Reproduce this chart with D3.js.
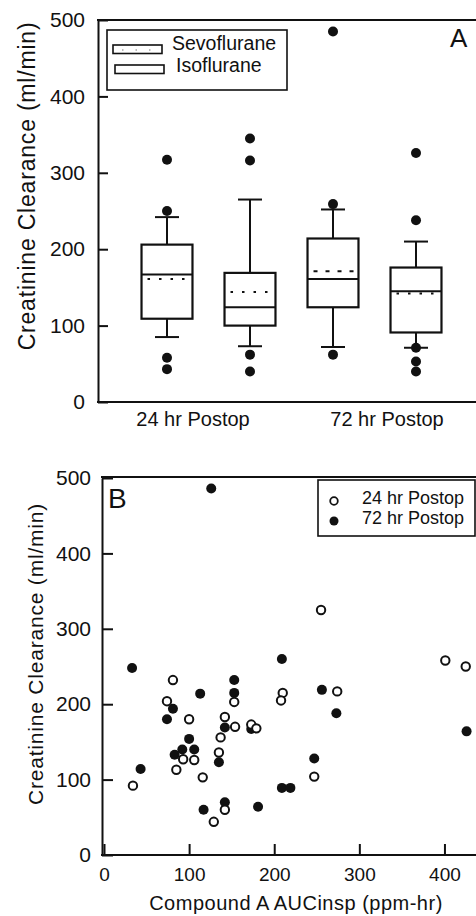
<!DOCTYPE html>
<html>
<head>
<meta charset="utf-8">
<script src="https://cdn.jsdelivr.net/npm/d3@7"></script>
<style>
  body { margin: 0; background: #fff; }
  svg { display: block; font-family: "Liberation Sans", Arial, sans-serif; }
</style>
</head>
<body>
<svg id="chart" width="476" height="916"></svg>
<script>
// Panel A: box plots of creatinine clearance by time point and agent.
const groups = ["24 hr Postop", "72 hr Postop"];
const agents = ["Sevoflurane", "Isoflurane"];
const boxKeys = ["24 hr Sevoflurane", "24 hr Isoflurane", "72 hr Sevoflurane", "72 hr Isoflurane"];
const whiskerLow = [85, 73, 72, 71];
const q1 = [109, 100, 124, 91];
const median = [167, 124, 161, 145];
const q3 = [206, 169, 214, 176];
const whiskerHigh = [242, 265, 252, 210];
const means = [161, 144, 171, 142];
const outliers = [
    [43, 58, 250, 317],
    [40, 62, 316, 345],
    [62, 259, 485],
    [40, 53, 71, 238, 326]
];
const yTicks = [0, 100, 200, 300, 400, 500];

// Panel B: clearance against Compound A exposure.
const auc24 = [34, 81, 74, 100, 142, 137, 93, 106, 135, 85, 116, 142, 129, 153, 210, 208, 274, 154, 173, 179, 247, 401, 425, 255];
const clear24 = [92, 232, 204, 180, 183, 156, 127, 126, 136, 113, 103, 60, 44, 203, 215, 205, 217, 170, 173, 168, 104, 258, 250, 325];
const auc72 = [33, 113, 81, 74, 142, 100, 92, 106, 83, 135, 43, 117, 142, 209, 153, 153, 256, 273, 173, 247, 209, 219, 181, 426, 126];
const clear72 = [248, 214, 194, 180, 169, 154, 140, 140, 133, 123, 114, 60, 70, 260, 232, 215, 219, 188, 167, 128, 89, 89, 64, 164, 486];
const xTicks = [0, 100, 200, 300, 400];

const INK = "#111";
const svg = d3.select("#chart");

const styleAxis = (g, size) => {
    g.selectAll("path, line").attr("stroke", INK).attr("stroke-width", 2);
    g.selectAll("text").attr("fill", INK).style("font-size", size + "px");
};

// ---------- Panel A ----------
const yA = d3.scaleLinear().domain([0, 500]).range([402, 20]);
const xBox = d3.scaleBand().domain(boxKeys).range([125.5, 457.5]).paddingInner(0.386).paddingOuter(0.193);
const xGroup = d3.scalePoint().domain(groups).range([193, 387]);

const panelA = svg.append("g");

panelA.append("g")
    .attr("transform", "translate(98,0)")
    .call(d3.axisLeft(yA).tickValues(yTicks).tickSize(-10).tickSizeOuter(0).tickPadding(13))
    .call(g => styleAxis(g, 21));

panelA.append("line").attr("x1", 97).attr("x2", 476).attr("y1", yA(0)).attr("y2", yA(0))
    .attr("stroke", INK).attr("stroke-width", 2);
panelA.append("line").attr("x1", 97).attr("x2", 476).attr("y1", yA(500)).attr("y2", yA(500))
    .attr("stroke", INK).attr("stroke-width", 2);

panelA.append("text")
    .attr("transform", `translate(35,${(yA(0) + yA(500)) / 2 - 25}) rotate(-90)`)
    .attr("text-anchor", "middle")
    .style("font-size", "23px").style("letter-spacing", "0.8px")
    .attr("fill", INK)
    .text("Creatinine Clearance (ml/min)");

panelA.selectAll(".group-label")
    .data(groups)
    .join("text")
    .attr("x", d => xGroup(d))
    .attr("y", 426)
    .attr("text-anchor", "middle")
    .style("font-size", "20px")
    .attr("fill", INK)
    .text(d => d);

const boxes = boxKeys.map((key, i) => ({
    key, lo: whiskerLow[i], q1: q1[i], med: median[i], q3: q3[i], hi: whiskerHigh[i], mean: means[i], out: outliers[i]
}));

const bw = xBox.bandwidth();
const box = panelA.selectAll(".box").data(boxes).join("g")
    .attr("transform", d => `translate(${xBox(d.key)},0)`);

box.append("line").attr("x1", bw / 2).attr("x2", bw / 2)
    .attr("y1", d => yA(d.q3)).attr("y2", d => yA(d.hi));
box.append("line").attr("x1", bw / 2).attr("x2", bw / 2)
    .attr("y1", d => yA(d.q1)).attr("y2", d => yA(d.lo));
box.append("line").attr("x1", bw / 2 - 12).attr("x2", bw / 2 + 12)
    .attr("y1", d => yA(d.hi)).attr("y2", d => yA(d.hi));
box.append("line").attr("x1", bw / 2 - 12).attr("x2", bw / 2 + 12)
    .attr("y1", d => yA(d.lo)).attr("y2", d => yA(d.lo));
box.selectAll("line").attr("stroke", INK).attr("stroke-width", 2);

box.append("rect")
    .attr("width", bw)
    .attr("y", d => yA(d.q3))
    .attr("height", d => yA(d.q1) - yA(d.q3))
    .attr("fill", "none").attr("stroke", INK).attr("stroke-width", 2.2);

box.append("line").attr("x1", 0).attr("x2", bw)
    .attr("y1", d => yA(d.med)).attr("y2", d => yA(d.med))
    .attr("stroke", INK).attr("stroke-width", 2);

// Means are drawn as a dotted line; the 72 hr sevoflurane one is short dashes.
box.append("line").attr("x1", 6).attr("x2", bw - 4)
    .attr("y1", d => yA(d.mean)).attr("y2", d => yA(d.mean))
    .attr("stroke", INK).attr("stroke-width", 2)
    .attr("stroke-dasharray", d => d.key === "72 hr Sevoflurane" ? "4 8" : "2.5 9");

box.selectAll(".out").data(d => d.out).join("circle")
    .attr("cx", bw / 2).attr("cy", v => yA(v)).attr("r", 5).attr("fill", INK);

// Legend A
const legA = panelA.append("g");
legA.append("rect").attr("x", 107).attr("y", 30).attr("width", 180).attr("height", 60)
    .attr("fill", "none").attr("stroke", INK).attr("stroke-width", 1.6);
agents.forEach((a, i) => {
    const y = 45 + i * 20;
    legA.append("rect").attr("x", 113 + i * 2).attr("y", y).attr("width", 49).attr("height", 8.5)
        .attr("fill", "none").attr("stroke", INK).attr("stroke-width", 1.6);
    if (i === 0) {
        legA.append("line").attr("x1", 122).attr("x2", 152).attr("y1", y + 5).attr("y2", y + 5)
            .attr("stroke", "#777").attr("stroke-width", 1).attr("stroke-dasharray", "1.5 12");
    }
    legA.append("text").attr("x", 172 + i * 4).attr("y", 50 + i * 22)
        .style("font-size", "19.5px").attr("fill", INK).text(a);
});

panelA.append("text").attr("x", 450).attr("y", 47)
    .style("font-size", "26px").attr("fill", INK).text("A");

// ---------- Panel B ----------
const xB = d3.scaleLinear().domain([0, 440]).range([104, 478.5]);
const yB = d3.scaleLinear().domain([0, 500]).range([855, 478]);
const panelB = svg.append("g");

panelB.append("g")
    .attr("transform", "translate(102,0)")
    .call(d3.axisLeft(yB).tickValues(yTicks).tickSize(-11).tickSizeOuter(0).tickPadding(11))
    .call(g => styleAxis(g, 21));

panelB.append("g")
    .attr("transform", `translate(0,${yB(0)})`)
    .call(d3.axisBottom(xB).tickValues(xTicks).tickSize(-11).tickSizeOuter(0).tickPadding(13))
    .call(g => styleAxis(g, 19))
    .call(g => g.select(".domain").remove());

panelB.append("line").attr("x1", 101).attr("x2", 476).attr("y1", yB(0)).attr("y2", yB(0))
    .attr("stroke", INK).attr("stroke-width", 2);
panelB.append("line").attr("x1", 101).attr("x2", 476).attr("y1", yB(500) - 1).attr("y2", yB(500) - 1)
    .attr("stroke", INK).attr("stroke-width", 2);

panelB.append("text")
    .attr("transform", `translate(43,654) rotate(-90)`)
    .attr("text-anchor", "middle")
    .style("font-size", "21px").style("letter-spacing", "0.8px")
    .attr("fill", INK)
    .text("Creatinine Clearance (ml/min)");

panelB.append("text")
    .attr("x", 296).attr("y", 910)
    .attr("text-anchor", "middle")
    .style("font-size", "20px").style("letter-spacing", "0.5px")
    .attr("fill", INK)
    .text("Compound A AUCinsp (ppm-hr)");

panelB.append("g").selectAll("circle")
    .data(d3.zip(auc72, clear72))
    .join("circle")
    .attr("cx", d => xB(d[0])).attr("cy", d => yB(d[1])).attr("r", 5)
    .attr("fill", INK);

panelB.append("g").selectAll("circle")
    .data(d3.zip(auc24, clear24))
    .join("circle")
    .attr("cx", d => xB(d[0])).attr("cy", d => yB(d[1])).attr("r", 4.2)
    .attr("fill", "#fff").attr("stroke", INK).attr("stroke-width", 2);

// Legend B
const legB = panelB.append("g");
legB.append("rect").attr("x", 318).attr("y", 480).attr("width", 157).attr("height", 56)
    .attr("fill", "#fff").attr("stroke", INK).attr("stroke-width", 1.6);
groups.forEach((g, i) => {
    const y = 501 + i * 20;
    legB.append("circle").attr("cx", 334).attr("cy", y).attr("r", i ? 4.5 : 3.8)
        .attr("fill", i ? INK : "#fff").attr("stroke", INK).attr("stroke-width", i ? 0 : 1.8);
    legB.append("text").attr("x", 362).attr("y", 504 + i * 20)
        .style("font-size", "18px").attr("fill", INK).text(g);
});

panelB.append("text").attr("x", 108).attr("y", 508)
    .style("font-size", "28px").attr("fill", INK).text("B");
</script>
</body>
</html>
